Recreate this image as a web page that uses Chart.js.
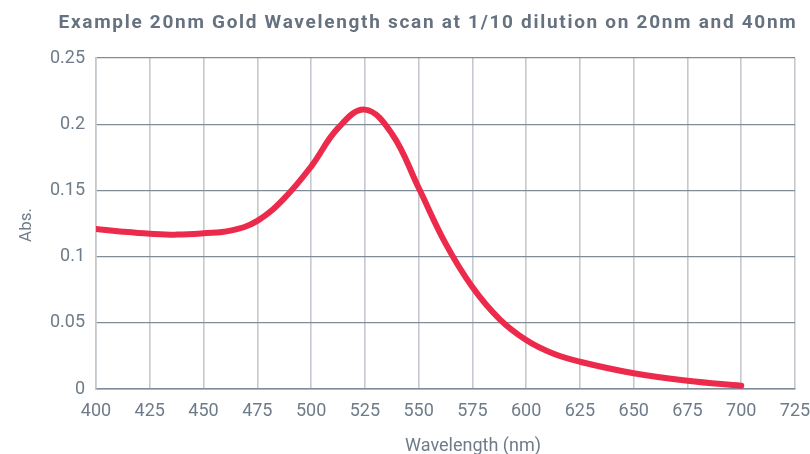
<!DOCTYPE html>
<html>
<head>
<meta charset="utf-8">
<script src="https://cdn.jsdelivr.net/npm/chart.js@4.4.1/dist/chart.umd.min.js"></script>
<style>
    html, body { margin: 0; padding: 0; background: #ffffff; }
    #wrap { width: 810px; height: 454px; }
</style>
</head>
<body>
<div id="wrap"><canvas id="scanChart" width="810" height="454"></canvas></div>
<script>
// Wavelength scan data
const wavelengths = [400, 412.5, 425, 437.5, 450, 462.5, 475, 487.5, 500, 512.5, 525, 537.5, 550, 562.5, 575, 587.5, 600, 612.5, 625, 650, 675, 700];
const absorbance = [0.1208, 0.1188, 0.1173, 0.1166, 0.1176, 0.1196, 0.127, 0.144, 0.168, 0.197, 0.211, 0.193, 0.152, 0.110, 0.077, 0.053, 0.037, 0.0268, 0.0206, 0.0119, 0.0063, 0.0025];
const xTickValues = [400, 425, 450, 475, 500, 525, 550, 575, 600, 625, 650, 675, 700, 725];
const yTickValues = [0, 0.05, 0.1, 0.15, 0.2, 0.25];
const yTickLabels = ['0', '0.05', '0.1', '0.15', '0.2', '0.25'];

const chartTitle = 'Example 20nm Gold Wavelength scan at 1/10 dilution on 20nm and 40nm';
const xTitle = 'Wavelength (nm)';
const yTitle = 'Abs.';

const textColor = '#6e7b89';
const fontFamily = 'Roboto, "Noto Sans", sans-serif';

const points = wavelengths.map((w, i) => ({ x: w, y: absorbance[i] }));

// titles are drawn by hand, they sit a bit right of centre in the original
const titlesPlugin = {
    id: 'titles',
    afterDraw(chart) {
        const ctx = chart.ctx;
        ctx.save();
        ctx.fillStyle = '#66727f';
        ctx.font = '700 19px ' + fontFamily;
        ctx.letterSpacing = '1.7px';
        ctx.textAlign = 'center';
        ctx.textBaseline = 'middle';
        ctx.fillText(chartTitle, 428, 23);

        ctx.fillStyle = textColor;
        ctx.letterSpacing = '0px';
        ctx.font = '18px ' + fontFamily;
        ctx.textBaseline = 'alphabetic';
        ctx.fillText(xTitle, 473, 451);

        ctx.font = '17px ' + fontFamily;
        ctx.textBaseline = 'middle';
        ctx.translate(27, 225);
        ctx.rotate(-Math.PI / 2);
        ctx.fillText(yTitle, 0, 0);
        ctx.restore();
    }
};

new Chart(document.getElementById('scanChart'), {
    type: 'line',
    data: {
        datasets: [{
            data: points,
            borderColor: '#ec2a4b',
            borderWidth: 6,
            borderCapStyle: 'round',
            pointRadius: 0,
            tension: 0.4,
            fill: false
        }]
    },
    options: {
        responsive: false,
        animation: false,
        layout: { padding: { left: 0, right: 15, top: 58, bottom: 0 } },
        plugins: {
            legend: { display: false },
            tooltip: { enabled: false },
            title: { display: false }
        },
        scales: {
            x: {
                type: 'linear',
                min: 400,
                max: 725,
                afterFit: scale => {
                    scale.height = 65;
                    scale.paddingLeft = 0;
                    scale.paddingRight = 0;
                },
                afterBuildTicks: scale => {
                    scale.ticks = xTickValues.map(v => ({ value: v }));
                },
                ticks: {
                    color: textColor,
                    font: { family: fontFamily, size: 18 },
                    padding: 12,
                    maxRotation: 0,
                    callback: value => String(value)
                },
                grid: { color: '#c3c9cf', lineWidth: 1.6, drawTicks: false },
                border: { color: '#7f8b97', width: 1.5 }
            },
            y: {
                min: 0,
                max: 0.25,
                afterFit: scale => { scale.width = 96; },
                afterBuildTicks: scale => {
                    scale.ticks = yTickValues.map(v => ({ value: v }));
                },
                ticks: {
                    color: textColor,
                    font: { family: fontFamily, size: 18 },
                    padding: 11,
                    callback: (value, index) => yTickLabels[index]
                },
                grid: { color: '#808c98', lineWidth: 1.2, drawTicks: false },
                border: { color: '#c3c9cf', width: 1.6 }
            }
        }
    },
    plugins: [titlesPlugin]
});
</script>
</body>
</html>
